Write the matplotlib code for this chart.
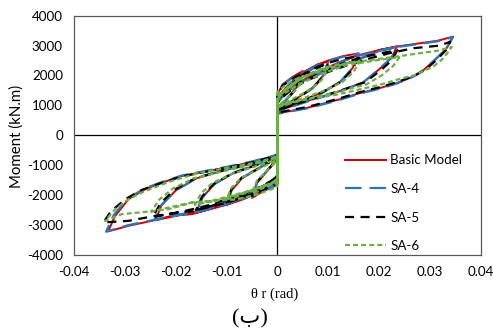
import matplotlib
matplotlib.use("Agg")
import matplotlib.pyplot as plt

plt.rcParams['lines.scale_dashes'] = False

# ---------------- data (rotation theta_r [rad], moment [kN.m]) ----------------
basic_theta = [
    0, 0,
    0.001, 0.003, 0.005, 0.004, 0.002, 0.0005, 0,
    0, -0.001, -0.003, -0.005, -0.004, -0.002, -0.0005, 0,
    0, 0.002, 0.005, 0.008, 0.010, 0.009, 0.007, 0.004, 0.001, 0,
    0, -0.002, -0.005, -0.008, -0.010, -0.009, -0.007, -0.004, -0.001, 0,
    0, 0.003, 0.007, 0.010, 0.013, 0.016, 0.0148, 0.0125, 0.009, 0.005, 0.001, 0,
    0, -0.003, -0.007, -0.010, -0.013, -0.016, -0.0148, -0.0125, -0.009, -0.005, -0.001, 0,
    0, 0.004, 0.009, 0.013, 0.016, 0.020, 0.0235, 0.0225, 0.020, 0.017, 0.012, 0.006, 0.001, 0,
    0, -0.004, -0.009, -0.013, -0.016, -0.020, -0.024, -0.0228, -0.020, -0.016, -0.011, -0.005, -0.001, 0,
    0, 0.002, 0.006, 0.011, 0.016, 0.0202, 0.0235, 0.0281, 0.0314, 0.0346,
    0.0333, 0.0314, 0.0288, 0.0268, 0.0235, 0.0202, 0.016, 0.012, 0.006, 0.001, 0,
    0, -0.001, -0.004, -0.0067, -0.010, -0.0132, -0.0168, -0.0208, -0.0247, -0.0293, -0.0333,
    -0.0319, -0.0293, -0.026, -0.0227, -0.0188, -0.0152, -0.010, -0.005, -0.0008, 0,
]
basic_moment = [
    0, 1350,
    1700, 1950, 2150, 1650, 1250, 950, 850,
    -1350, -1700, -1900, -2100, -1600, -1200, -900, -800,
    1250, 1650, 2100, 2380, 2480, 2000, 1600, 1250, 950, 850,
    -1400, -1700, -1950, -2200, -2330, -1850, -1450, -1150, -850, -780,
    1200, 1800, 2250, 2500, 2650, 2740, 2250, 1800, 1450, 1150, 900, 820,
    -1450, -1750, -2050, -2250, -2450, -2600, -2100, -1650, -1300, -1050, -800, -750,
    1150, 1750, 2200, 2500, 2680, 2850, 2970, 2600, 2200, 1780, 1460, 1150, 870, 800,
    -1500, -1850, -2150, -2400, -2550, -2700, -2850, -2350, -1850, -1450, -1200, -950, -750, -700,
    1100, 1500, 1900, 2250, 2550, 2857, 2967, 3080, 3157, 3300,
    2913, 2580, 2190, 1967, 1747, 1580, 1400, 1190, 920, 760, 720,
    -1650, -1750, -1950, -2143, -2330, -2477, -2643, -2700, -2867, -3033, -3220,
    -2700, -2143, -1810, -1587, -1367, -1250, -1080, -900, -700, -650,
]

sa4_theta = [
    0, 0,
    0.001, 0.003, 0.005, 0.004, 0.002, 0.0005, 0,
    0, -0.001, -0.003, -0.005, -0.004, -0.002, -0.0005, 0,
    0, 0.002, 0.005, 0.008, 0.010, 0.009, 0.007, 0.004, 0.001, 0,
    0, -0.002, -0.005, -0.008, -0.010, -0.009, -0.007, -0.004, -0.001, 0,
    0, 0.003, 0.007, 0.010, 0.013, 0.016, 0.0147, 0.0123, 0.009, 0.005, 0.001, 0,
    0, -0.003, -0.007, -0.010, -0.013, -0.016, -0.0147, -0.0123, -0.009, -0.005, -0.001, 0,
    0, 0.004, 0.009, 0.013, 0.016, 0.020, 0.0235, 0.0224, 0.0198, 0.0168, 0.012, 0.006, 0.001, 0,
    0, -0.004, -0.009, -0.013, -0.016, -0.020, -0.0242, -0.0228, -0.0198, -0.0158, -0.011, -0.005, -0.001, 0,
    0, 0.002, 0.006, 0.011, 0.016, 0.0202, 0.0235, 0.0281, 0.0314, 0.0345,
    0.0332, 0.0312, 0.0287, 0.0266, 0.0235, 0.0202, 0.016, 0.012, 0.006, 0.001, 0,
    0, -0.001, -0.004, -0.0067, -0.010, -0.0132, -0.0168, -0.0208, -0.0247, -0.0293, -0.0337,
    -0.0322, -0.0295, -0.0262, -0.0228, -0.0188, -0.0152, -0.010, -0.005, -0.0008, 0,
]
sa4_moment = [
    0, 1300,
    1680, 1930, 2120, 1620, 1230, 940, 840,
    -1320, -1680, -1880, -2080, -1580, -1180, -880, -790,
    1230, 1630, 2080, 2350, 2450, 1980, 1580, 1230, 940, 840,
    -1380, -1690, -1930, -2180, -2310, -1830, -1430, -1130, -840, -770,
    1180, 1780, 2230, 2480, 2630, 2720, 2230, 1780, 1430, 1130, 890, 810,
    -1430, -1730, -2030, -2230, -2430, -2580, -2080, -1630, -1280, -1030, -790, -740,
    1130, 1730, 2180, 2480, 2660, 2830, 2950, 2580, 2180, 1760, 1440, 1130, 860, 790,
    -1480, -1830, -2130, -2380, -2530, -2690, -2840, -2330, -1830, -1430, -1180, -940, -740, -690,
    1080, 1480, 1880, 2230, 2530, 2830, 2950, 3060, 3140, 3280,
    2890, 2560, 2170, 1950, 1730, 1560, 1380, 1170, 900, 750, 710,
    -1630, -1730, -1930, -2120, -2310, -2460, -2620, -2690, -2850, -3010, -3230,
    -2680, -2120, -1790, -1570, -1350, -1230, -1060, -880, -690, -640,
]

sa5_theta = [
    0, 0,
    0.001, 0.003, 0.005, 0.004, 0.002, 0.0005, 0,
    0, -0.001, -0.003, -0.005, -0.004, -0.002, -0.0005, 0,
    0, 0.002, 0.005, 0.008, 0.010, 0.009, 0.007, 0.004, 0.001, 0,
    0, -0.002, -0.005, -0.008, -0.010, -0.009, -0.007, -0.004, -0.001, 0,
    0, 0.003, 0.007, 0.010, 0.013, 0.016, 0.0148, 0.0125, 0.009, 0.005, 0.001, 0,
    0, -0.003, -0.007, -0.010, -0.013, -0.016, -0.0148, -0.0125, -0.009, -0.005, -0.001, 0,
    0, 0.004, 0.009, 0.013, 0.016, 0.020, 0.0236, 0.0226, 0.0202, 0.0172, 0.012, 0.006, 0.001, 0,
    0, -0.004, -0.009, -0.013, -0.016, -0.020, -0.0245, -0.023, -0.0202, -0.0162, -0.011, -0.005, -0.001, 0,
    0, 0.002, 0.006, 0.011, 0.016, 0.0221, 0.0268, 0.032, 0.034,
    0.0332, 0.0315, 0.0292, 0.027, 0.0236, 0.0202, 0.016, 0.012, 0.006, 0.001, 0,
    0, -0.001, -0.004, -0.0067, -0.010, -0.0132, -0.0168, -0.0195, -0.024, -0.0293, -0.0342,
    -0.0328, -0.0298, -0.0265, -0.0228, -0.0188, -0.0152, -0.010, -0.005, -0.0008, 0,
]
sa5_moment = [
    0, 1300,
    1650, 1900, 2080, 1600, 1230, 960, 870,
    -1300, -1650, -1850, -2030, -1560, -1180, -900, -810,
    1220, 1600, 2030, 2300, 2400, 1960, 1580, 1250, 960, 870,
    -1360, -1650, -1900, -2130, -2250, -1800, -1420, -1140, -860, -790,
    1170, 1750, 2180, 2420, 2560, 2650, 2200, 1790, 1450, 1160, 910, 830,
    -1420, -1700, -1980, -2180, -2370, -2500, -2050, -1630, -1290, -1050, -810, -760,
    1120, 1700, 2130, 2420, 2580, 2730, 2850, 2520, 2150, 1770, 1470, 1170, 890, 820,
    -1460, -1800, -2080, -2320, -2450, -2600, -2740, -2280, -1820, -1440, -1200, -960, -760, -710,
    1080, 1460, 1850, 2180, 2470, 2747, 2913, 3000, 3130,
    2850, 2550, 2200, 1990, 1780, 1610, 1430, 1220, 950, 790, 740,
    -1600, -1700, -1900, -2080, -2260, -2400, -2540, -2587, -2700, -2867, -2920,
    -2560, -2130, -1820, -1600, -1380, -1260, -1090, -910, -710, -660,
]

sa6_theta = [
    0, 0,
    0.001, 0.003, 0.005, 0.004, 0.002, 0.0005, 0,
    0, -0.001, -0.003, -0.005, -0.004, -0.002, -0.0005, 0,
    0, 0.002, 0.005, 0.008, 0.010, 0.009, 0.007, 0.004, 0.001, 0,
    0, -0.002, -0.005, -0.008, -0.010, -0.009, -0.007, -0.004, -0.001, 0,
    0, 0.003, 0.007, 0.010, 0.0137, 0.0162, 0.015, 0.0128, 0.009, 0.005, 0.001, 0,
    0, -0.003, -0.007, -0.010, -0.013, -0.0162, -0.015, -0.0128, -0.009, -0.005, -0.001, 0,
    0, 0.004, 0.009, 0.0137, 0.0202, 0.0240, 0.0228, 0.0205, 0.0175, 0.012, 0.006, 0.001, 0,
    0, -0.004, -0.009, -0.013, -0.0168, -0.0214, -0.0248, -0.0232, -0.0205, -0.0165, -0.011, -0.005, -0.001, 0,
    0, 0.002, 0.0051, 0.0137, 0.0202, 0.0235, 0.0281, 0.0314, 0.0343,
    0.0327, 0.0307, 0.0268, 0.0235, 0.0202, 0.0117, 0.0051, 0.001, 0,
    0, -0.001, -0.004, -0.008, -0.0168, -0.0214, -0.026, -0.0306, -0.0339,
    -0.0319, -0.0293, -0.026, -0.0208, -0.0152, -0.010, -0.005, -0.0008, 0,
]
sa6_moment = [
    0, 1450,
    1600, 1820, 1980, 1580, 1250, 1030, 950,
    -1450, -1600, -1780, -1950, -1520, -1180, -930, -850,
    1350, 1580, 1950, 2180, 2280, 1900, 1580, 1300, 1050, 980,
    -1500, -1650, -1850, -2050, -2150, -1750, -1420, -1160, -900, -830,
    1300, 1720, 2100, 2300, 2413, 2480, 2120, 1780, 1480, 1230, 1030, 960,
    -1550, -1720, -1950, -2100, -2220, -2330, -1950, -1600, -1300, -1080, -860, -800,
    1250, 1680, 2080, 2350, 2523, 2610, 2320, 2000, 1700, 1460, 1220, 1000, 930,
    -1600, -1800, -2020, -2200, -2253, -2420, -2560, -2150, -1780, -1450, -1220, -980, -800, -750,
    1200, 1600, 1967, 2413, 2560, 2633, 2747, 2823, 2950,
    2580, 2300, 2000, 1857, 1690, 1357, 1190, 1000, 930,
    -1700, -1800, -1980, -2150, -2253, -2477, -2567, -2643, -2870,
    -2477, -2143, -1867, -1533, -1253, -1100, -940, -760, -700,
]

series_labels = ['Basic Model', 'SA-4', 'SA-5', 'SA-6']
x_ticks = [-0.04, -0.03, -0.02, -0.01, 0, 0.01, 0.02, 0.03, 0.04]
x_tick_labels = ['-0.04', '-0.03', '-0.02', '-0.01', '0', '0.01', '0.02', '0.03', '0.04']
y_ticks = [-4000, -3000, -2000, -1000, 0, 1000, 2000, 3000, 4000]
y_tick_labels = ['-4000', '-3000', '-2000', '-1000', '0', '1000', '2000', '3000', '4000']

# ---------------- figure ----------------
W, H = 493, 333
fig = plt.figure(figsize=(W / 100, H / 100), dpi=100)
ax = fig.add_axes([74 / W, 1 - 254.7 / H, (480.7 - 74) / W, (254.7 - 15.7) / H])

ax.set_xlim(-0.04, 0.04)
ax.set_ylim(-4000, 4000)

ax.axhline(0, color='black', lw=0.9, zorder=1)
ax.axvline(0, color='black', lw=0.9, zorder=1)

l1, = ax.plot(basic_theta, basic_moment, color='#D00000', lw=1.4, zorder=2,
              solid_joinstyle='round')
l2, = ax.plot(sa4_theta, sa4_moment, color='#2E75B6', lw=1.6, zorder=3,
              dashes=(11.9, 5.8))
l3, = ax.plot(sa5_theta, sa5_moment, color='black', lw=1.6, zorder=4,
              dashes=(6.5, 4.7))
l4, = ax.plot(sa6_theta, sa6_moment, color='#70AD47', lw=1.6, zorder=5,
              dashes=(3.6, 2.2))

for s in ax.spines.values():
    s.set_color('#595959')
    s.set_linewidth(0.9)

fnt = 'Lato'
fs = 9.6
ax.set_xticks(x_ticks)
ax.set_xticklabels(x_tick_labels, family=fnt, fontsize=fs)
ax.set_yticks(y_ticks)
ax.set_yticklabels(y_tick_labels, family=fnt, fontsize=fs)
ax.tick_params(length=0, pad=8, colors='black')

fig.text(17 / W, 1 - 136 / H, 'Moment (kN.m)', rotation=90, ha='center', va='center',
         family=fnt, fontsize=10.8)
fig.text(275 / W, 1 - 294 / H, 'θ r (rad)', ha='center', va='center',
         family=['Liberation Serif', 'DejaVu Serif'], fontsize=10.5)
fig.text(250 / W, 1 - 319 / H, '(ب)', ha='center', va='center',
         family=['Liberation Serif', 'DejaVu Sans'], fontsize=16)

leg = ax.legend([l1, l2, l3, l4], series_labels, loc='upper left',
                bbox_to_anchor=(345 / W, 1 - 154.5 / H), bbox_transform=fig.transFigure,
                frameon=False, borderpad=0, borderaxespad=0,
                handlelength=3.08, handletextpad=0.3, labelspacing=1.24,
                prop={'family': fnt, 'size': fs})

fig.savefig('out.png', dpi=100)
